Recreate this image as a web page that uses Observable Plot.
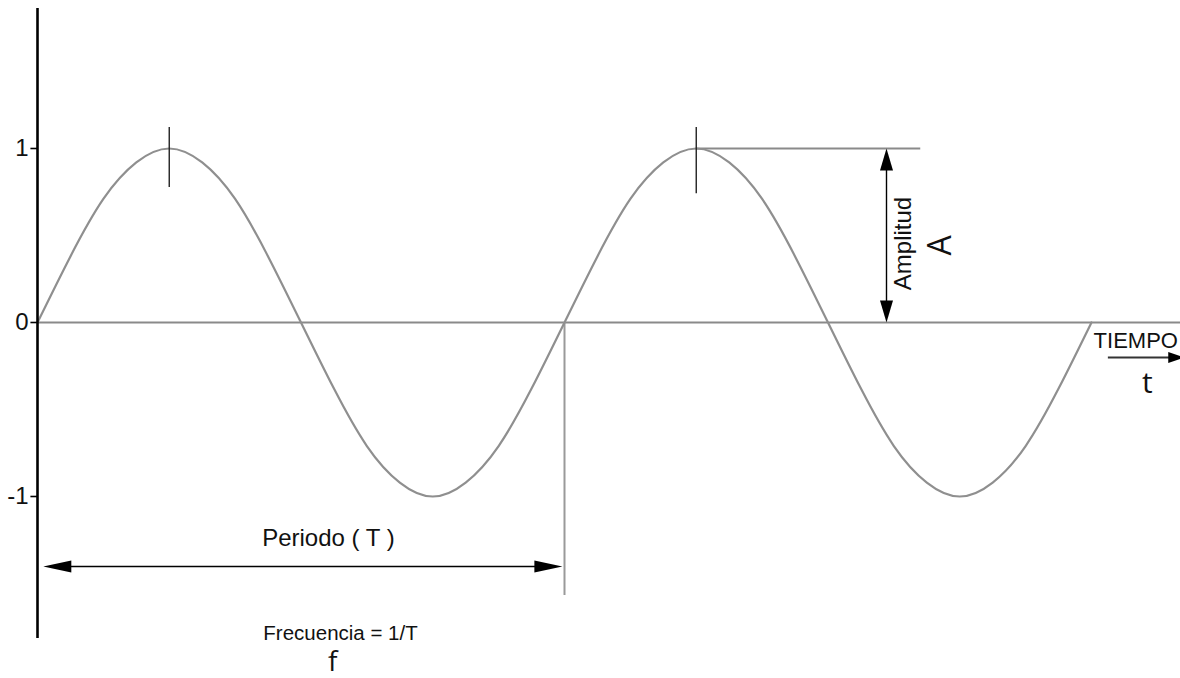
<!DOCTYPE html>
<html>
<head>
<meta charset="utf-8">
<script src="https://cdn.jsdelivr.net/npm/d3@7"></script>
<script src="https://cdn.jsdelivr.net/npm/@observablehq/plot@0.6"></script>
<style>
  html, body { margin: 0; padding: 0; background: #fff; overflow: hidden; }
  #chart { width: 1180px; height: 678px; }
</style>
</head>
<body>
<div id="chart"></div>
<script>
// ---- data (time in periods, amplitude in units) ----
const waveT = [0, 0.0625, 0.125, 0.1875, 0.25, 0.3125, 0.375, 0.4375, 0.5,
               0.5625, 0.625, 0.6875, 0.75, 0.8125, 0.875, 0.9375, 1,
               1.0625, 1.125, 1.1875, 1.25, 1.3125, 1.375, 1.4375, 1.5,
               1.5625, 1.625, 1.6875, 1.75, 1.8125, 1.875, 1.9375, 2];
const waveA = [0, 0.38, 0.71, 0.92, 1, 0.92, 0.71, 0.38, 0,
               -0.38, -0.71, -0.92, -1, -0.92, -0.71, -0.38, 0,
               0.38, 0.71, 0.92, 1, 0.92, 0.71, 0.38, 0,
               -0.38, -0.71, -0.92, -1, -0.92, -0.71, -0.38, 0];
const yTicks = [-1, 0, 1];
const yTickLabels = ["-1", "0", "1"];
const peakTimes = [0.25, 1.25];
const periodT = 1;
const amplitude = 1;

// ---- annotations (in data units) ----
const axisSpan = [1.805, -1.816];
const tickSpan = [-0.0125, 0];
const peakTickTop = [1.12, 1.12];
const peakTickBottom = [0.776, 0.74];
const periodLineBottom = -1.569;
const periodArrowY = -1.402;
const periodArrowFrom = 0.011;
const periodArrowTo = 0.996;
const ampLineEnd = 1.676;
const ampArrowX = 1.611;
const timeArrowY = -0.201;
const timeArrowFrom = 2.032;
const timeArrowTo = 2.176;

const sans = "Liberation Sans, Arial, sans-serif";
const open = "Open Sans, sans-serif";
const labels = [
  {text: "Periodo ( T )", x: 0.552, y: -1.241, size: 24, font: sans, rotate: 0, anchor: "middle"},
  {text: "Frecuencia = 1/T", x: 0.575, y: -1.787, size: 20.5, font: sans, rotate: 0, anchor: "middle"},
  {text: "f", x: 0.56, y: -1.95, size: 28, font: open, rotate: 0, anchor: "middle"},
  {text: "TIEMPO", x: 2.004, y: -0.105, size: 22, font: sans, rotate: 0, anchor: "start"},
  {text: "t", x: 2.106, y: -0.351, size: 30, font: open, rotate: 0, anchor: "middle"},
  {text: "Amplitud", x: 1.643, y: 0.454, size: 24, font: sans, rotate: -90, anchor: "middle"},
  {text: "A", x: 1.713, y: 0.443, size: 32, font: open, rotate: -90, anchor: "middle"}
];

const wave = waveT.map((t, i) => ({t, a: waveA[i]}));
const tickRows = yTicks.map((v, i) => ({v, label: yTickLabels[i], x0: 0}));

// arrowhead symbols (tip at origin, pointing +x)
function headSymbol(L, W) {
  return {draw(ctx) { ctx.moveTo(0, 0); ctx.lineTo(-L, -W); ctx.lineTo(-L, W); ctx.closePath(); }};
}
const bigHead = headSymbol(28, 6);
const ampHead = headSymbol(22, 6.5);
const timeHead = headSymbol(16, 5.5);

const marks = [
  Plot.ruleY([0], {x1: 0, x2: 2.2, stroke: "#8a8a8a", strokeWidth: 2}),
  Plot.ruleX([periodT], {y1: 0, y2: periodLineBottom, stroke: "#9a9a9a", strokeWidth: 2}),
  Plot.ruleY([amplitude], {x1: peakTimes[1], x2: ampLineEnd, stroke: "#8a8a8a", strokeWidth: 2}),
  Plot.line(wave, {x: "t", y: "a", curve: "natural", stroke: "#8f8f8f", strokeWidth: 2.2}),
  Plot.ruleX(peakTimes.map((t, i) => ({t, y1: peakTickTop[i], y2: peakTickBottom[i]})),
    {x: "t", y1: "y1", y2: "y2", stroke: "#222", strokeWidth: 1.4}),
  Plot.ruleX([0], {y1: axisSpan[0], y2: axisSpan[1], stroke: "#000", strokeWidth: 2.6}),
  // y ticks and labels
  Plot.ruleY(tickRows, {y: "v", x1: tickSpan[0], x2: tickSpan[1], stroke: "#000", strokeWidth: 1.6}),
  Plot.text(tickRows, {y: "v", x: "x0", text: "label", dx: -9, textAnchor: "end", lineAnchor: "middle",
    fontSize: 24, fontFamily: sans, fill: "#111"}),
  Plot.ruleY([periodArrowY], {x1: periodArrowFrom + 0.03, x2: periodArrowTo - 0.03, stroke: "#000", strokeWidth: 1.4}),
  Plot.dot([{x: periodArrowFrom, r: 180}, {x: periodArrowTo, r: 0}],
    {x: "x", y: () => periodArrowY, rotate: "r", symbol: bigHead, fill: "#000", stroke: "none", r: 6}),
  Plot.ruleX([ampArrowX], {y1: 0.08, y2: amplitude - 0.08, stroke: "#000", strokeWidth: 1.4}),
  Plot.dot([{y: amplitude, r: -90}, {y: 0, r: 90}],
    {x: () => ampArrowX, y: "y", rotate: "r", symbol: ampHead, fill: "#000", stroke: "none", r: 6}),
  Plot.ruleY([timeArrowY], {x1: timeArrowFrom, x2: timeArrowTo - 0.02, stroke: "#333", strokeWidth: 2}),
  Plot.dot([{x: timeArrowTo}], {x: "x", y: () => timeArrowY, rotate: 0, symbol: timeHead, fill: "#000", stroke: "none", r: 6}),
  ...labels.map(l => Plot.text([l], {x: "x", y: "y", text: "text", fontSize: l.size, fontFamily: l.font,
    rotate: l.rotate, textAnchor: l.anchor, lineAnchor: "middle", fill: "#111"}))
];

const chart = Plot.plot({
  width: 1180,
  height: 678,
  marginLeft: 37,
  marginRight: 0,
  marginTop: 0,
  marginBottom: 0,
  x: {domain: [0, 1143 / 527], axis: null},
  y: {domain: [-356 / 174, 322 / 174], axis: null},
  style: {background: "#fff", fontFamily: sans, color: "#000", overflow: "visible"},
  marks
});
document.getElementById("chart").appendChild(chart);
</script>
</body>
</html>
